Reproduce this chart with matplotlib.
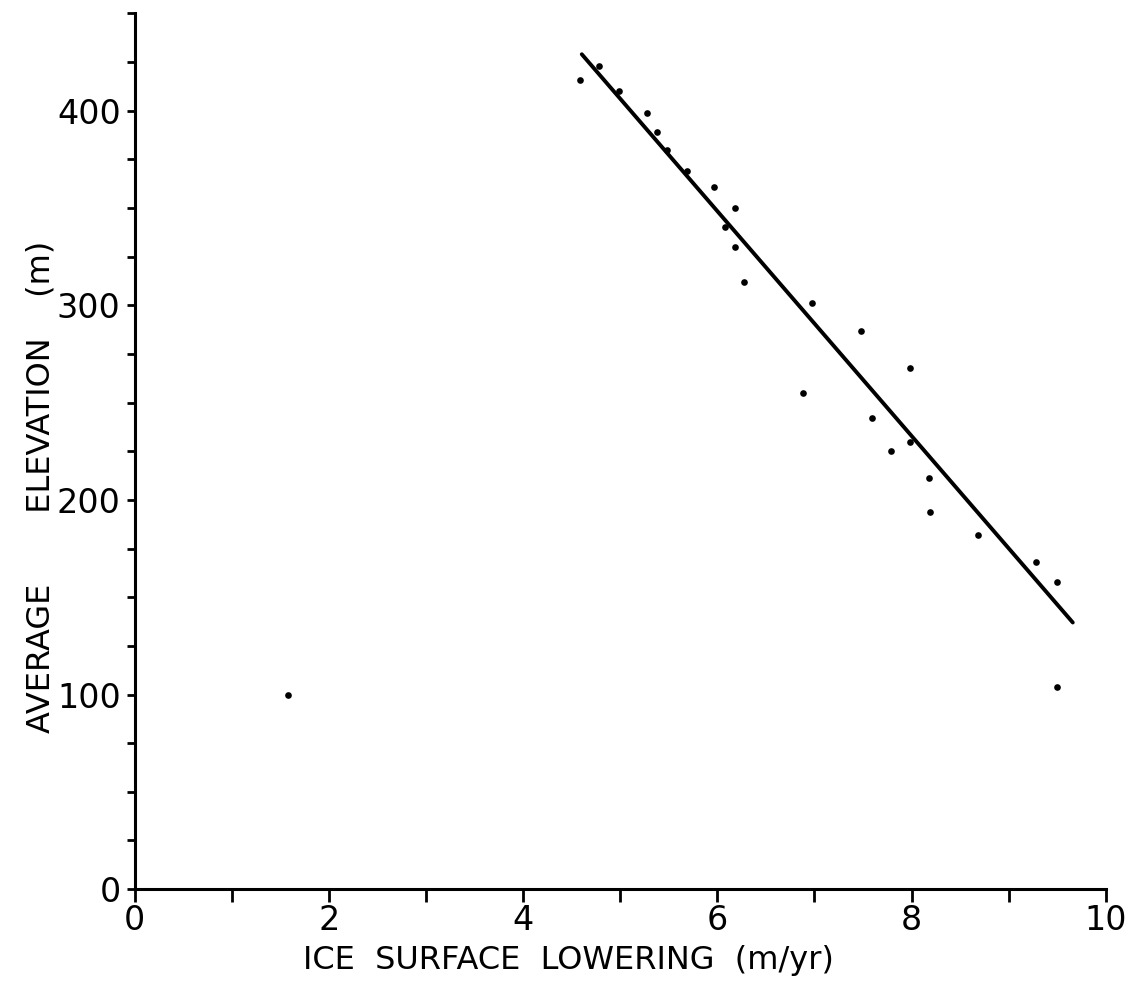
import matplotlib.pyplot as plt
from matplotlib.ticker import MultipleLocator

# measured lowering rate (m/yr) against average elevation (m)
lowering = [4.59, 4.78, 4.99, 5.28, 5.38, 5.48, 5.69, 5.97, 6.18, 6.08, 6.18, 6.28,
            6.98, 7.48, 7.98, 6.88, 7.59, 7.98, 7.79, 8.18, 8.19, 8.68, 9.28, 9.50,
            9.50, 1.58]
elevation = [416, 423, 410, 399, 389, 380, 369, 361, 350, 340, 330, 312,
             301, 287, 268, 255, 242, 230, 225, 211, 194, 182, 168, 158,
             104, 100]

# regression line end points
fit_x = [4.605, 9.66]
fit_y = [429, 137]

x_ticks = [0, 2, 4, 6, 8, 10]
y_ticks = [0, 100, 200, 300, 400]

fig = plt.figure(figsize=(11.4, 9.99), dpi=100)
ax = fig.add_axes([0.118, 0.110, 0.852, 0.8766])

ax.plot(lowering, elevation, 'o', color='black', markersize=4.8, markeredgewidth=0)
ax.plot(fit_x, fit_y, color='black', linewidth=2.8, solid_capstyle='round')

ax.set_xlim(0, 10)
ax.set_ylim(0, 450)

for side in ['top', 'right']:
    ax.spines[side].set_visible(False)
for side in ['left', 'bottom']:
    ax.spines[side].set_linewidth(2.2)

ax.set_xticks(x_ticks)
ax.set_yticks(y_ticks)
ax.xaxis.set_minor_locator(MultipleLocator(1))
ax.yaxis.set_minor_locator(MultipleLocator(25))
ax.tick_params(axis='both', which='both', direction='out', width=2, colors='black')
ax.tick_params(axis='x', which='both', length=9, pad=2, labelsize=24)
ax.tick_params(axis='y', which='both', length=6, pad=4, labelsize=24)

# axis titles placed as figure text
fig.text(0.499, 0.039, 'ICE  SURFACE  LOWERING  (m/yr)', fontsize=23,
         ha='center', va='center')
fig.text(0.036, 0.5125, 'AVERAGE       ELEVATION    (m)', fontsize=23,
         ha='center', va='center', rotation=90)

fig.savefig('out.png', dpi=100)
